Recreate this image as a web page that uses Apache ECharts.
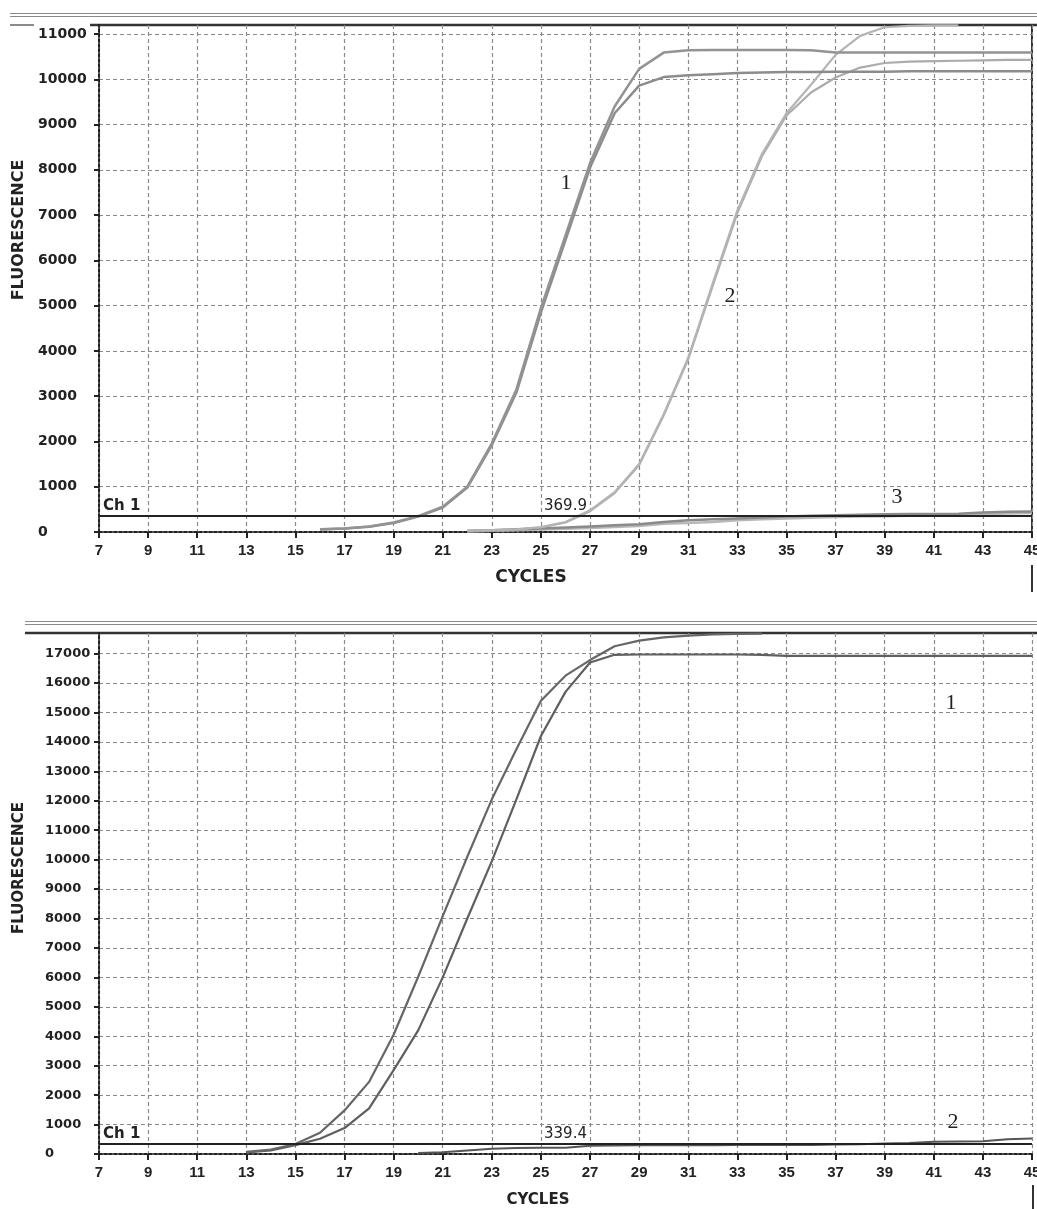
<!DOCTYPE html>
<html><head><meta charset="utf-8">
<script src="https://cdn.jsdelivr.net/npm/echarts@6/dist/echarts.min.js"></script>
<style>html,body{margin:0;padding:0;background:#fff}#c{width:1037px;height:1209px}</style>
</head><body><div id="c"></div><script>
// ---------- data ----------
const xTickValues = [7,9,11,13,15,17,19,21,23,25,27,29,31,33,35,37,39,41,43,45];
const topYTicks = [0,1000,2000,3000,4000,5000,6000,7000,8000,9000,10000,11000];
const botYTicks = [0,1000,2000,3000,4000,5000,6000,7000,8000,9000,10000,11000,12000,13000,14000,15000,16000,17000];
const topThreshold = 369.9;
const botThreshold = 339.4;

// top chart, curve 1 (two replicates)
const top1Cycles = [16,17,18,19,20,21,22,23,24,25,26,27,28,29,30,31,32,33,34,35,36,37,38,39,40,41,42,43,44,45];
const top1aValues = [60,80,120,210,350,560,1000,1960,3150,4950,6550,8150,9400,10230,10590,10640,10650,10650,10650,10650,10640,10590,10590,10590,10590,10590,10590,10590,10590,10590];
const top1bValues = [55,75,115,200,340,540,980,1920,3080,4850,6450,8050,9250,9860,10050,10090,10110,10140,10150,10160,10160,10170,10170,10170,10180,10180,10180,10180,10180,10180];
// top chart, curve 2 (two replicates)
const top2aCycles = [22,23,24,25,26,27,28,29,30,31,32,33,34,35,36,37,38,39,40,41,42];
const top2aValues = [30,40,60,110,220,480,880,1500,2600,3850,5500,7100,8350,9250,9880,10540,10960,11150,11180,11190,11190];
const top2bCycles = [22,23,24,25,26,27,28,29,30,31,32,33,34,35,36,37,38,39,40,41,42,43,44,45];
const top2bValues = [25,35,55,100,210,460,860,1480,2580,3820,5450,7050,8300,9200,9710,10040,10260,10360,10390,10400,10410,10420,10430,10430];
// top chart, curve 3 (negative, two replicates)
const top3Cycles = [22,23,24,25,26,27,28,29,30,31,32,33,34,35,36,37,38,39,40,41,42,43,44,45];
const top3aValues = [20,40,60,80,100,120,150,170,220,260,280,300,320,345,360,370,380,390,395,400,405,430,450,455];
const top3bValues = [10,25,40,55,70,90,110,130,180,200,220,260,280,300,315,330,340,350,360,370,385,400,410,420];

// bottom chart, curve 1 (two replicates)
const bot1aCycles = [13,14,15,16,17,18,19,20,21,22,23,24,25,26,27,28,29,30,31,32,33,34];
const bot1aValues = [70,150,340,720,1480,2450,4050,6020,8080,10100,12050,13750,15400,16250,16780,17250,17440,17550,17610,17650,17670,17680];
const bot1bCycles = [13,14,15,16,17,18,19,20,21,22,23,24,25,26,27,28,29,30,31,32,33,34,35,36,37,38,39,40,41,42,43,44,45];
const bot1bValues = [50,120,300,520,880,1550,2850,4200,6000,8000,9950,12050,14200,15700,16700,16960,16970,16970,16970,16970,16970,16960,16920,16920,16920,16920,16920,16920,16920,16920,16920,16920,16920];
// bottom chart, curve 2 (negative)
const bot2Cycles = [20,21,22,23,24,25,26,27,28,29,30,31,32,33,34,35,36,37,38,39,40,41,42,43,44,45];
const bot2Values = [30,60,120,180,200,210,215,280,290,295,300,300,300,305,305,310,310,320,330,360,370,420,425,430,500,530];

// ---------- build ----------
const pairs = (cs, vs) => cs.map((c, i) => [c, vs[i]]);
const chart = echarts.init(document.getElementById('c'), null, {renderer: 'canvas'});

const gridLine = {show: true, lineStyle: {color: '#8a8a8a', width: 1.2, type: [4, 3]}};
function xAxisDef(gi, fs) {
  return {
    type: 'value', gridIndex: gi, min: 7, max: 45,
    axisLine: {show: true, onZero: false, lineStyle: {color: '#222', width: 2, type: [3, 2]}},
    axisTick: {show: true, customValues: xTickValues, length: 6, lineStyle: {color: '#222', width: 2}},
    axisLabel: {customValues: xTickValues, margin: 11, color: '#222', fontFamily: 'Liberation Sans', fontWeight: 'bold', fontSize: fs,
      formatter: v => String(v)},
    splitLine: gridLine
  };
}
function yAxisDef(gi, max, ticks, margin, fs) {
  return {
    type: 'value', gridIndex: gi, min: 0, max: max,
    axisLine: {show: true, lineStyle: {color: '#222', width: 2, type: [3, 2]}},
    axisTick: {show: true, customValues: ticks, length: 5, lineStyle: {color: '#222', width: 2}},
    axisLabel: {customValues: ticks, margin: margin, align: 'left', color: '#222', fontFamily: 'DejaVu Sans', fontWeight: 'bold', fontSize: fs,
      formatter: v => String(v)},
    splitLine: gridLine
  };
}
function lineSeries(gi, data, color, width) {
  return {
    type: 'line', xAxisIndex: gi, yAxisIndex: gi, data: data,
    symbol: 'none', smooth: false, silent: true,
    lineStyle: {color: color, width: width, join: 'round'}
  };
}
function threshold(gi, value) {
  return {
    type: 'line', xAxisIndex: gi, yAxisIndex: gi, data: [], silent: true,
    markLine: {
      symbol: 'none', silent: true, animation: false,
      lineStyle: {color: '#222', width: 2, type: 'solid'},
      data: [
        {yAxis: value, label: {formatter: 'Ch 1', position: 'insideStartTop', distance: [4, 2], color: '#222', fontFamily: 'DejaVu Sans', fontWeight: 'bold', fontSize: 15}},
        {yAxis: value, label: {formatter: String(value), position: 'insideMiddleTop', distance: 2, color: '#222', fontFamily: 'DejaVu Sans', fontSize: 15}}
      ]
    }
  };
}

const txt = (x, y, t, font, extra) => Object.assign({type: 'text', x: x, y: y, silent: true,
  style: Object.assign({text: t, font: font, fill: '#222', align: 'center', verticalAlign: 'middle'}, extra || {})});
const hline = (x1, x2, y, color, w) => ({type: 'line', silent: true, shape: {x1: x1, y1: y, x2: x2, y2: y}, style: {stroke: color, lineWidth: w}});
const vline = (x, y1, y2, color, w) => ({type: 'line', silent: true, shape: {x1: x, y1: y1, x2: x, y2: y2}, style: {stroke: color, lineWidth: w}});

chart.setOption({
  animation: false,
  backgroundColor: '#fff',
  grid: [
    {left: 99, right: 5, top: 25, height: 507, containLabel: false, outerBoundsMode: 'none'},
    {left: 99, right: 5, top: 633, height: 521, containLabel: false, outerBoundsMode: 'none'}
  ],
  xAxis: [xAxisDef(0, 15), xAxisDef(1, 15)],
  yAxis: [yAxisDef(0, 11200, topYTicks, 61, 14), yAxisDef(1, 17700, botYTicks, 54, 13)],
  series: [
    lineSeries(0, pairs(top3Cycles, top3bValues), '#b8b8b8', 2.5),
    lineSeries(0, pairs(top3Cycles, top3aValues), '#8a8a8a', 2.5),
    lineSeries(0, pairs(top2bCycles, top2bValues), '#ababab', 2.2),
    lineSeries(0, pairs(top2aCycles, top2aValues), '#b4b4b4', 2.2),
    lineSeries(0, pairs(top1Cycles, top1bValues), '#8c8c8c', 2.5),
    lineSeries(0, pairs(top1Cycles, top1aValues), '#939393', 2.5),
    threshold(0, topThreshold),
    lineSeries(1, pairs(bot2Cycles, bot2Values), '#555', 2),
    lineSeries(1, pairs(bot1bCycles, bot1bValues), '#5f5f5f', 2.2),
    lineSeries(1, pairs(bot1aCycles, bot1aValues), '#666', 2.2),
    threshold(1, botThreshold)
  ],
  graphic: [
    // window chrome / frame, top panel
    hline(10, 1037, 13.5, '#8a8a8a', 1.2),
    hline(10, 1037, 16.5, '#8a8a8a', 1.2),
    hline(10, 34, 25, '#8a8a8a', 2),
    hline(90, 1037, 25, '#333', 2.5),
    vline(1032, 25, 532, '#333', 2),
    vline(1032, 565, 592, '#333', 2),
    // window chrome / frame, bottom panel
    hline(25, 1037, 621.5, '#8a8a8a', 1.2),
    hline(25, 1037, 624.5, '#8a8a8a', 1.2),
    hline(25, 1037, 633, '#333', 2.5),
    vline(1033, 1185, 1209, '#333', 2),
    // axis titles
    txt(531, 578, 'CYCLES', 'bold 17px "DejaVu Sans"'),
    txt(538, 1200, 'CYCLES', 'bold 15px "DejaVu Sans"'),
    Object.assign(txt(19, 230, 'FLUORESCENCE', 'bold 16px "DejaVu Sans"'), {rotation: Math.PI / 2}),
    Object.assign(txt(19, 868, 'FLUORESCENCE', 'bold 15px "DejaVu Sans"'), {rotation: Math.PI / 2}),
    // curve labels
    txt(566, 183, '1', '22px "Liberation Serif"'),
    txt(730, 296, '2', '22px "Liberation Serif"'),
    txt(897, 497, '3', '22px "Liberation Serif"'),
    txt(951, 703, '1', '22px "Liberation Serif"'),
    txt(953, 1122, '2', '22px "Liberation Serif"')
  ]
});
</script></body></html>
